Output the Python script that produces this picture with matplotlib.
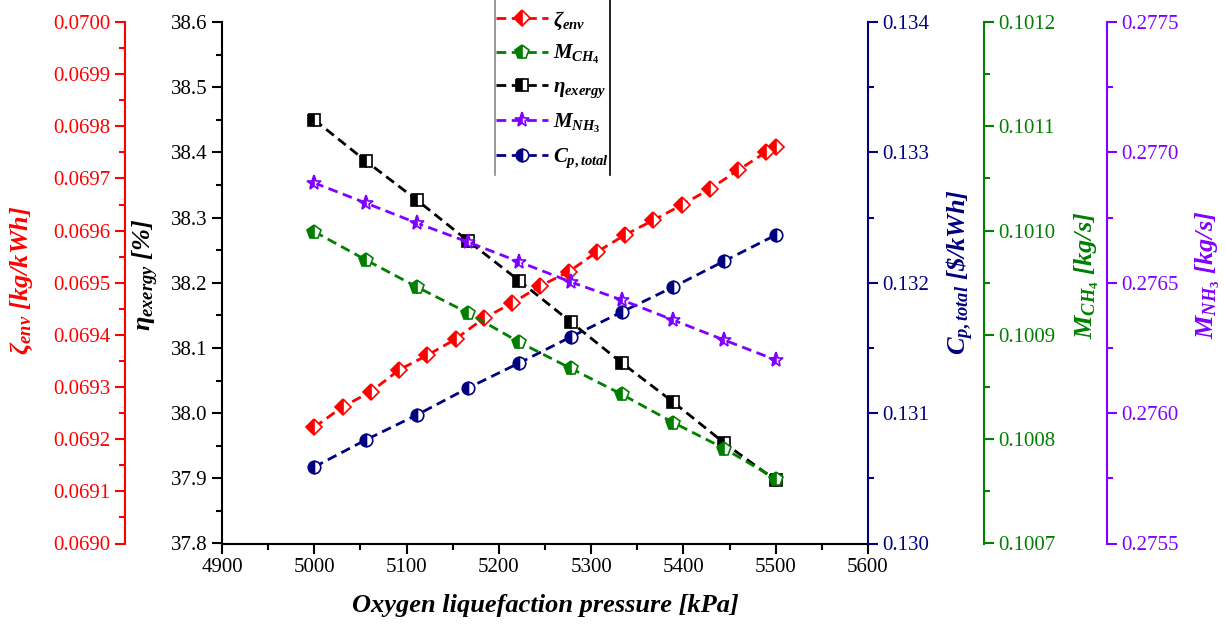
import numpy as np
import matplotlib
matplotlib.use("Agg")
import matplotlib.pyplot as plt
from matplotlib.lines import Line2D
from matplotlib.ticker import MultipleLocator, FormatStrFormatter

plt.rcParams['font.family'] = ['Liberation Serif', 'DejaVu Serif']
plt.rcParams['mathtext.fontset'] = 'custom'
plt.rcParams['mathtext.rm'] = 'Liberation Serif:bold'
plt.rcParams['mathtext.it'] = 'Liberation Serif:bold:italic'
plt.rcParams['mathtext.bf'] = 'Liberation Serif:bold'

# pressure grids
p_fine = [5000, 5030.6, 5061.3, 5091.9, 5122.5, 5153.1, 5183.8, 5214.4, 5245.0,
          5275.6, 5306.3, 5336.9, 5367.5, 5398.1, 5428.8, 5459.4, 5490.0, 5500]
p_coarse = [5000, 5055.6, 5111.1, 5166.7, 5222.2, 5277.8, 5333.3, 5388.9, 5444.4, 5500]

zeta_env = [0.069223, 0.069262, 0.069291, 0.069333, 0.069361, 0.069392, 0.069432,
            0.069461, 0.069494, 0.069521, 0.069559, 0.069592, 0.069620, 0.069649,
            0.069680, 0.069716, 0.069751, 0.069760]
eta_exergy = [38.450, 38.387, 38.327, 38.264, 38.203, 38.140, 38.077, 38.017, 37.954, 37.897]
m_ch4 = [0.100999, 0.100972, 0.100946, 0.100921, 0.100893, 0.100868, 0.100843,
         0.100816, 0.100791, 0.100762]
m_nh3 = [0.276883, 0.276806, 0.276729, 0.276656, 0.276580, 0.276503, 0.276434,
         0.276357, 0.276280, 0.276204]
cp_total = [0.130587, 0.130794, 0.130986, 0.131193, 0.131385, 0.131584, 0.131776,
            0.131967, 0.132167, 0.132366]

RED = '#ff0000'
GREEN = '#007f00'
BLACK = '#000000'
PURPLE = '#8000ff'
NAVY = '#000080'

fig = plt.figure(figsize=(12.25, 6.3), dpi=100)
ax = fig.add_axes([222/1225, 1-543.5/630, 646/1225, 521.5/630])
ax_z = ax.twinx()
ax_cp = ax.twinx()
ax_ch4 = ax.twinx()
ax_nh3 = ax.twinx()

tick_fs = 15
lab_fs = 19


def style_axis(a, side, color, lo, hi, major, minor, fmt, outward=0):
    for s in a.spines.values():
        s.set_visible(False)
    a.spines[side].set_visible(True)
    a.spines[side].set_color(color)
    a.spines[side].set_linewidth(1.5)
    if outward:
        a.spines[side].set_position(('outward', outward))
    a.yaxis.set_ticks_position(side)
    a.yaxis.set_label_position(side)
    a.set_ylim(lo, hi)
    a.yaxis.set_major_locator(MultipleLocator(major))
    a.yaxis.set_minor_locator(MultipleLocator(minor))
    a.yaxis.set_major_formatter(FormatStrFormatter(fmt))
    a.tick_params(axis='y', which='major', direction='out', length=7, width=1.5,
                  colors=color, labelsize=tick_fs, labelcolor=color)
    a.tick_params(axis='y', which='minor', direction='out', length=4, width=1.5,
                  colors=color)


style_axis(ax, 'left', BLACK, 37.8, 38.6, 0.1, 0.05, '%.1f')
ax.spines['bottom'].set_visible(True)
ax.spines['bottom'].set_linewidth(1.5)
style_axis(ax_z, 'left', RED, 0.0690, 0.0700, 0.0001, 0.00005, '%.4f', outward=97*0.72)
style_axis(ax_cp, 'right', NAVY, 0.130, 0.134, 0.001, 0.0005, '%.3f')
style_axis(ax_ch4, 'right', GREEN, 0.1007, 0.1012, 0.0001, 0.00005, '%.4f', outward=116*0.72)
style_axis(ax_nh3, 'right', PURPLE, 0.2755, 0.2775, 0.0005, 0.00025, '%.4f', outward=239*0.72)

ax.set_xlim(4900, 5600)
ax.xaxis.set_major_locator(MultipleLocator(100))
ax.xaxis.set_minor_locator(MultipleLocator(50))
ax.tick_params(axis='x', which='major', direction='out', length=7, width=1.5, labelsize=tick_fs)
ax.tick_params(axis='x', which='minor', direction='out', length=4, width=1.5)

common = dict(linestyle=(0, (3.5, 2)), linewidth=2, markersize=9, fillstyle='left',
              markerfacecoloralt='white', markeredgewidth=1.2)
l_z, = ax_z.plot(p_fine, zeta_env, marker='D', color=RED, mfc=RED, mec=RED,
                 label=r'$\zeta_{env}$', **{**common, 'markersize': 8})
l_ch4, = ax_ch4.plot(p_coarse, m_ch4, marker='p', color=GREEN, mfc=GREEN, mec=GREEN,
                     label=r'$M_{CH_4}$', **{**common, 'markersize': 10.5})
l_eta, = ax.plot(p_coarse, eta_exergy, marker='s', color=BLACK, mfc=BLACK, mec=BLACK,
                 label=r'$\eta_{exergy}$', **{**common, 'markersize': 8})
l_nh3, = ax_nh3.plot(p_coarse, m_nh3, marker='*', color=PURPLE, mfc=PURPLE, mec=PURPLE,
                     label=r'$M_{NH_3}$', **{**common, 'markersize': 11})
l_cp, = ax_cp.plot(p_coarse, cp_total, marker='o', color=NAVY, mfc=NAVY, mec=NAVY,
                   label=r'$C_{p,total}$', **common)

ax.set_xlabel('Oxygen liquefaction pressure [kPa]', fontsize=lab_fs, fontweight='bold',
              fontstyle='italic', labelpad=12)

lab_kw = dict(rotation=90, ha='center', va='center', fontsize=lab_fs,
              fontweight='bold', fontstyle='italic')
fig.text(22/1225, 1-280/630, r'$\zeta_{env}$ [kg/kWh]', color=RED, **lab_kw)
fig.text(146/1225, 1-275/630, r'$\eta_{exergy}$ [%]', color=BLACK, **lab_kw)
fig.text(960/1225, 1-272/630, r'$C_{p,total}$ [\$/kWh]', color=NAVY, **lab_kw)
fig.text(1087/1225, 1-275/630, r'$M_{CH_4}$ [kg/s]', color=GREEN, **lab_kw)
fig.text(1208/1225, 1-275/630, r'$M_{NH_3}$ [kg/s]', color=PURPLE, **lab_kw)

handles = [l_z, l_ch4, l_eta, l_nh3, l_cp]
leg = ax_nh3.legend(handles, [h.get_label() for h in handles], loc='upper left',
                    bbox_to_anchor=(493/1225, 1 - 6/630), bbox_transform=fig.transFigure,
                    frameon=False, fontsize=15, handlelength=2.5, labelspacing=0.55,
                    handletextpad=0.25, borderpad=0.05, borderaxespad=0.1)

fig.canvas.draw()
bb = leg.get_window_extent().transformed(fig.transFigure.inverted())
fig.add_artist(Line2D([bb.x0, bb.x0], [bb.y0 - 4/630, 1.0], color='#888888', lw=1.2,
                      transform=fig.transFigure))
fig.add_artist(Line2D([bb.x1, bb.x1], [bb.y0 - 4/630, 1.0], color='black', lw=1.2,
                      transform=fig.transFigure))

fig.savefig('out.png', dpi=100)
